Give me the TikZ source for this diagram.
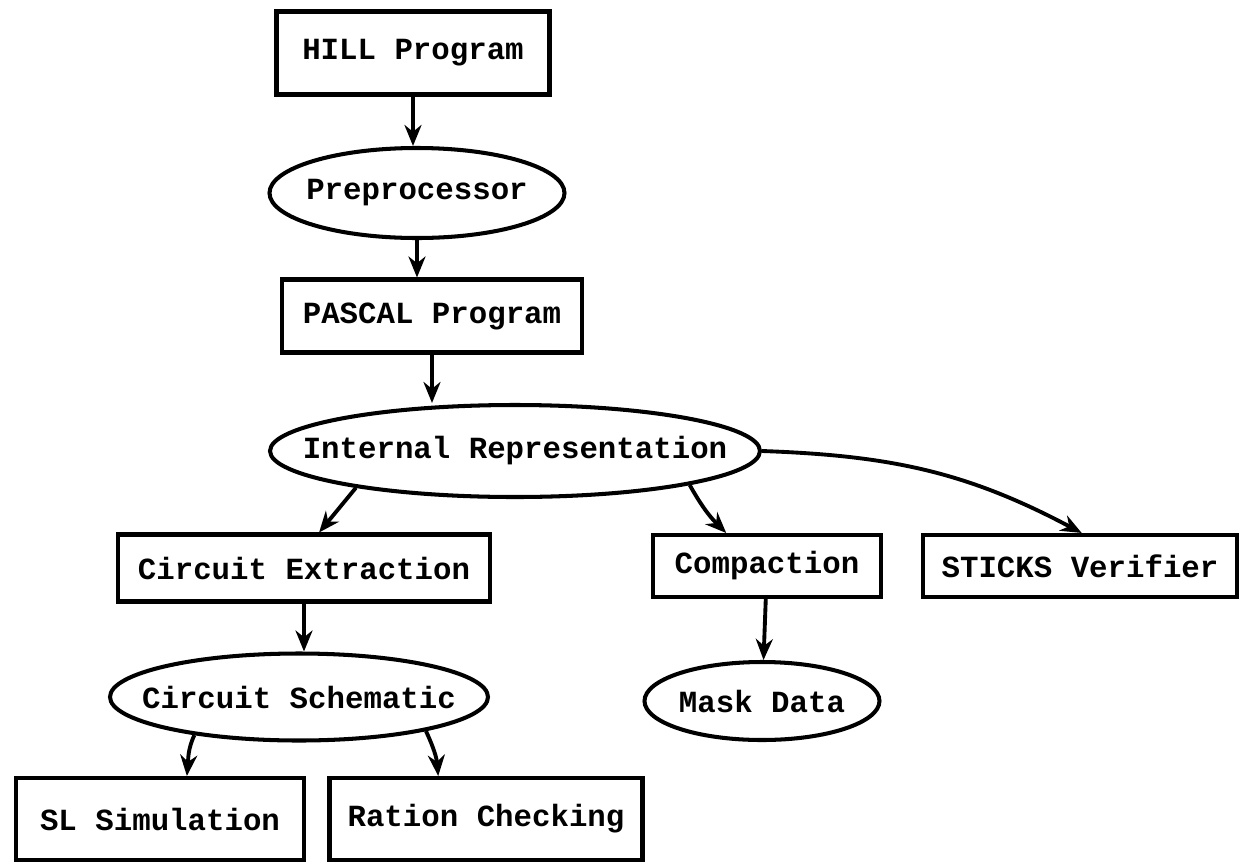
\documentclass[tikz,border=0pt]{standalone}
\usepackage{fontspec}
\setmonofont{Liberation Mono}
\usetikzlibrary{shapes.geometric, arrows.meta}

\begin{document}
\begin{tikzpicture}[
        every node/.style={draw, line width=2.3pt, inner sep=0pt, font=\ttfamily\bfseries\fontsize{17.5}{21}\selectfont},
        box/.style={rectangle},
        blob/.style={ellipse, inner ysep=0pt},
        link/.style={-{Stealth[length=4.2mm, width=3.4mm]}, line width=2.2pt}
    ]
        \useasboundingbox (0,0) rectangle (24.96,-17.34);

        \node[box, minimum width=5.46cm, minimum height=1.66cm] (hill) at (8.26,-1.06) {HILL Program};
        \node[blob, inner xsep=-0.14cm, minimum width=5.9cm, minimum height=1.8cm] (prep) at (8.34,-3.86) {Preprocessor};
        \node[box, minimum width=6cm, minimum height=1.46cm] (pascal) at (8.64,-6.32) {PASCAL Program};
        \node[blob, inner xsep=-0.79cm, minimum width=9.8cm, minimum height=1.84cm] (internal) at (10.3,-9.02) {Internal Representation};
        \node[box, minimum width=7.44cm, minimum height=1.34cm] (extract) at (6.08,-11.36) {Circuit Extraction};
        \node[box, minimum width=4.56cm, minimum height=1.24cm] (compact) at (15.34,-11.32) {Compaction};
        \node[box, minimum width=6.28cm, minimum height=1.24cm] (sticks) at (21.6,-11.32) {STICKS Verifier};
        \node[blob, inner xsep=-0.47cm, minimum width=7.56cm, minimum height=1.74cm] (schem) at (5.98,-13.94) {Circuit Schematic};
        \node[blob, inner xsep=0cm, minimum width=4.7cm, minimum height=1.56cm] (mask) at (15.24,-14.02) {Mask Data};
        \node[box, minimum width=5.76cm, minimum height=1.64cm] (slsim) at (3.2,-16.38) {SL Simulation};
        \node[box, minimum width=6.26cm, minimum height=1.64cm] (ration) at (9.72,-16.38) {Ration Checking};

        \draw[link] (hill) -- (hill |- prep.north);
        \draw[link] (prep.south) -- (prep.south |- pascal.north);
        \draw[link] (pascal) -- (pascal |- internal.north);
        \draw[link] (internal.193) -- (extract.67);
        \draw[link] (internal.349) to[bend right=8] (compact.141);
        \draw[link] (internal.east) to[out=-2, in=152] (sticks.87);
        \draw[link] (extract) -- (extract |- schem.north);
        \draw[link] (compact) -- (mask);
        \draw[link] (schem.200) to[out=-115, in=85] (slsim.58);
        \draw[link] (schem.345) to[out=-65, in=95] (ration.138);
    \end{tikzpicture}
\end{document}
